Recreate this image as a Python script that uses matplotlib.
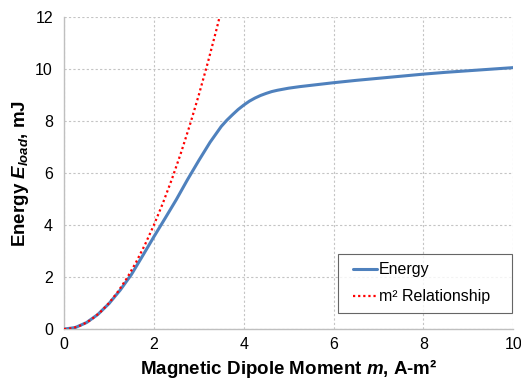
import matplotlib
matplotlib.use("Agg")
import matplotlib.pyplot as plt
from matplotlib.lines import Line2D
from matplotlib.legend_handler import HandlerLine2D

plt.rcParams["font.family"] = ["Liberation Sans", "DejaVu Sans"]
plt.rcParams["mathtext.fontset"] = "custom"
plt.rcParams["mathtext.rm"] = "Liberation Sans:bold"
plt.rcParams["mathtext.it"] = "Liberation Sans:bold:italic"

# Simulated load energy vs. dipole moment
m_energy = [0, 0.25, 0.5, 0.75, 1.0, 1.25, 1.5, 1.75, 2.0, 2.25, 2.5, 2.75,
            3.0, 3.25, 3.5, 3.625, 3.75, 3.875, 4.0, 4.125, 4.25, 4.375, 4.5,
            4.625, 4.75, 5.0, 5.25, 5.5, 6.0, 6.5, 7.0, 7.5, 8.0, 8.5, 9.0,
            9.5, 10.0]
e_energy = [0, 0.06, 0.25, 0.56, 0.98, 1.5, 2.1, 2.82, 3.55, 4.26, 4.98, 5.75,
            6.48, 7.18, 7.79, 8.03, 8.24, 8.44, 8.61, 8.76, 8.88, 8.98, 9.06,
            9.13, 9.18, 9.26, 9.32, 9.37, 9.47, 9.56, 9.64, 9.72, 9.8, 9.87,
            9.93, 9.99, 10.05]

# Ideal square-law reference
m_ref = [0, 0.2, 0.4, 0.6, 0.8, 1.0, 1.2, 1.4, 1.6, 1.8, 2.0, 2.2, 2.4, 2.6,
         2.8, 3.0, 3.2, 3.4, 3.6]
e_ref = [0, 0.04, 0.16, 0.36, 0.64, 1.0, 1.44, 1.96, 2.56, 3.24, 4.0, 4.84,
         5.76, 6.76, 7.84, 9.0, 10.24, 11.56, 12.96]

x_ticks = [0, 2, 4, 6, 8, 10]
y_ticks = [0, 2, 4, 6, 8, 10, 12]

fig = plt.figure(figsize=(5.21, 3.84), dpi=100)
ax = fig.add_axes([0.123, 0.143, 0.862, 0.813])

ax.plot(m_energy, e_energy, color="#4F81BD", lw=2.2, label="Energy",
        solid_joinstyle="round", solid_capstyle="round", zorder=3)
ax.plot(m_ref, e_ref, color="#FF0000", lw=1.6, ls=(0, (1, 1.3)),
        label="m² Relationship", zorder=4)

ax.set_xlim(0, 10)
ax.set_ylim(0, 12)
ax.set_xticks(x_ticks)
ax.set_yticks(y_ticks)
ax.grid(True, color="#C4C4C4", ls=(0, (2, 2)), lw=0.8)
ax.set_axisbelow(True)
for side in ("top", "right"):
    ax.spines[side].set_visible(False)
for side in ("left", "bottom"):
    ax.spines[side].set_color("#BFBFBF")
    ax.spines[side].set_linewidth(1.0)
ax.tick_params(length=0, labelsize=11.5, colors="#000000")
ax.tick_params(axis="x", pad=6)
ax.tick_params(axis="y", pad=8)

ax.set_xlabel("Magnetic Dipole Moment $m$, A-m²", fontsize=13.5,
              fontweight="bold", labelpad=3)
ax.set_ylabel("Energy $E_{load}$, mJ", fontsize=13.5, fontweight="bold",
              labelpad=3)

leg = ax.legend(loc="lower right", bbox_to_anchor=(0.61, 0.051, 0.388, 0.2),
                mode="expand", fontsize=11.5, frameon=True, fancybox=False,
                handlelength=1.9, handletextpad=0.1, borderpad=0.55,
                labelspacing=0.75, borderaxespad=0,
                handler_map={Line2D: HandlerLine2D(xpad=0.4)})
leg.get_frame().set_edgecolor("#404040")
leg.get_frame().set_linewidth(0.8)

fig.savefig("out.png", dpi=100)
